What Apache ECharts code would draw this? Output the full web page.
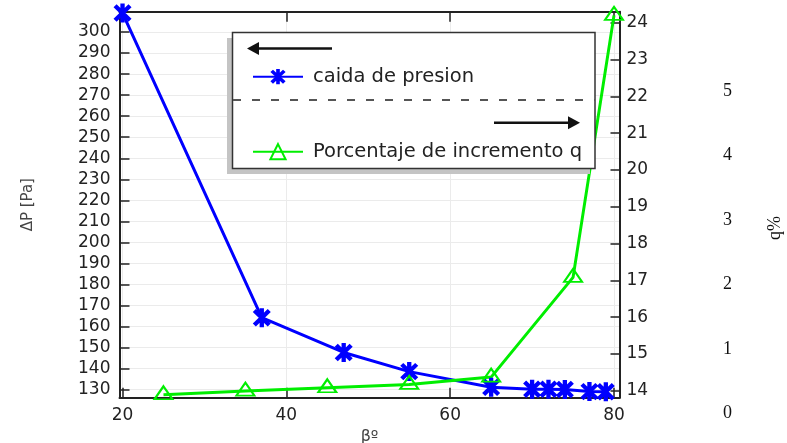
<!DOCTYPE html>
<html>
<head>
<meta charset="utf-8">
<script src="https://cdn.jsdelivr.net/npm/echarts@6/dist/echarts.min.js"></script>
<style>
html,body{margin:0;padding:0;background:#fff}
#chart{width:787px;height:443px}
</style>
</head>
<body>
<div id="chart"></div>
<script>
// caida de presion (eje izquierdo)
const betaPresion = [20, 37, 47, 55, 65, 70, 72, 74, 77, 79]
const caidaPresion = [309, 164.2, 147.7, 138.6, 131.2, 130.2, 130.2, 130.1, 129.1, 129]
// porcentaje de incremento q (eje derecho)
const betaPorcentaje = [25, 35, 45, 55, 65, 75, 80]
const incrementoQ = [13.89, 13.99, 14.08, 14.17, 14.37, 17.08, 24.2]
// etiquetas de los ejes
const xTicks = [20, 40, 60, 80]
const presionTicks = [130, 140, 150, 160, 170, 180, 190, 200, 210, 220, 230, 240, 250, 260, 270, 280, 290, 300]
const qTicks = [14, 15, 16, 17, 18, 19, 20, 21, 22, 23, 24]
const extraTicks = [0, 1, 2, 3, 4, 5]

const FONT = 'DejaVu Sans'
const FRAME = '#222'
const STAR = 'path://M39 0H61V100H39Z M19.8 4.2L95.8 80.2L80.2 95.8L4.2 19.8Z M95.8 19.8L19.8 95.8L4.2 80.2L80.2 4.2Z'

const chart = echarts.init(document.getElementById('chart'))

const frameAxis = {
    axisLine: { show: true, lineStyle: { color: FRAME, width: 2 } },
    axisTick: { show: true, inside: true, length: 10, lineStyle: { color: FRAME, width: 1.5 } }
}

const option = {
    animation: false,
    backgroundColor: '#fff',
    grid: [
        { left: 119.5, right: 167.5, top: 11.7, bottom: 45.3, outerBoundsMode: 'none' },
        { left: 740, width: 10, top: 91, height: 322.3, outerBoundsMode: 'none' }
    ],
    xAxis: [
        {
            type: 'value', min: 19.63, max: 80.67, position: 'bottom',
            name: 'βº', nameLocation: 'middle', nameGap: 27,
            nameTextStyle: { fontFamily: FONT, fontSize: 16, color: '#444' },
            axisLine: frameAxis.axisLine,
            axisTick: Object.assign({ customValues: xTicks }, frameAxis.axisTick),
            axisLabel: { customValues: xTicks, fontFamily: FONT, fontSize: 17, color: '#222', margin: 9 },
            splitLine: { show: true, lineStyle: { color: '#ebebeb', width: 1 } }
        },
        {
            type: 'value', min: 19.63, max: 80.67, position: 'top',
            axisLine: frameAxis.axisLine,
            axisTick: Object.assign({ customValues: xTicks }, frameAxis.axisTick),
            axisLabel: { show: false },
            splitLine: { show: false }
        },
        { type: 'value', gridIndex: 1, show: false }
    ],
    yAxis: [
        {
            type: 'value', min: 126.2, max: 309.65, position: 'left',
            name: 'ΔP [Pa]', nameLocation: 'middle', nameGap: 84,
            nameTextStyle: { fontFamily: FONT, fontSize: 15, color: '#444' },
            axisLine: frameAxis.axisLine,
            axisTick: Object.assign({ customValues: presionTicks }, frameAxis.axisTick),
            axisLabel: { customValues: presionTicks, fontFamily: FONT, fontSize: 17, color: '#222', margin: 9 },
            splitLine: { show: true, lineStyle: { color: '#ebebeb', width: 1 } }
        },
        {
            type: 'value', min: 13.81, max: 24.3, position: 'right',
            axisLine: frameAxis.axisLine,
            axisTick: Object.assign({ customValues: qTicks }, frameAxis.axisTick, { length: 9 }),
            axisLabel: { customValues: qTicks, fontFamily: FONT, fontSize: 17, color: '#222', margin: 7 },
            splitLine: { show: false }
        },
        {
            type: 'value', gridIndex: 1, min: 0, max: 5, interval: 1, position: 'left',
            axisLine: { show: false }, axisTick: { show: false }, splitLine: { show: false },
            axisLabel: { customValues: extraTicks, fontFamily: 'Liberation Serif', fontSize: 18, color: '#111', margin: 8 }
        }
    ],
    legend: [
        {
            data: ['caida de presion'], left: 247, top: 61.7, z: 110,
            itemWidth: 50, itemHeight: 19, selectedMode: false,
            textStyle: { fontFamily: FONT, fontSize: 19.5, color: '#222', lineHeight: 20, padding: [0, 0, 0, 5] }
        },
        {
            data: ['Porcentaje de incremento q'], left: 247, top: 136.7, z: 110,
            itemWidth: 50, itemHeight: 19, selectedMode: false,
            textStyle: { fontFamily: FONT, fontSize: 19.5, color: '#222', lineHeight: 20, padding: [0, 0, 0, 5] }
        }
    ],
    graphic: [
        // sombra y caja de la leyenda
        { type: 'rect', z: 100, shape: { x: 227, y: 38, width: 363, height: 136 }, style: { fill: '#c4c4c4' } },
        { type: 'rect', z: 101, shape: { x: 232.5, y: 32.5, width: 362.5, height: 136 }, style: { fill: '#fff', stroke: '#333', lineWidth: 1.5 } },
        { type: 'line', z: 102, shape: { x1: 233, y1: 100, x2: 595, y2: 100 }, style: { stroke: '#555', lineWidth: 2, lineDash: [8, 11] } },
        // flechas
        { type: 'line', z: 102, shape: { x1: 256, y1: 48.5, x2: 332, y2: 48.5 }, style: { stroke: '#111', lineWidth: 2.5 } },
        { type: 'polygon', z: 102, shape: { points: [[247, 48.5], [259, 42], [259, 55]] }, style: { fill: '#111' } },
        { type: 'line', z: 102, shape: { x1: 494, y1: 122.7, x2: 571, y2: 122.7 }, style: { stroke: '#111', lineWidth: 2.5 } },
        { type: 'polygon', z: 102, shape: { points: [[580, 122.7], [568, 116.2], [568, 129.2]] }, style: { fill: '#111' } },
        // titulo del eje extra
        {
            type: 'text', x: 775, y: 228, rotation: Math.PI / 2,
            style: { text: 'q%', font: '18px "Liberation Serif"', fill: '#111', align: 'center', verticalAlign: 'middle' }
        }
    ],
    series: [
        {
            name: 'caida de presion', type: 'line', xAxisIndex: 0, yAxisIndex: 0,
            data: betaPresion.map((b, i) => [b, caidaPresion[i]]),
            symbol: STAR, symbolSize: [18, 19],
            lineStyle: { color: '#0000ff', width: 3 },
            itemStyle: { color: '#0000ff' }
        },
        {
            name: 'Porcentaje de incremento q', type: 'line', xAxisIndex: 0, yAxisIndex: 1,
            data: betaPorcentaje.map((b, i) => [b, incrementoQ[i]]),
            symbol: 'triangle', symbolSize: [18, 13], symbolOffset: [0, -2],
            lineStyle: { color: '#00ee00', width: 3 },
            itemStyle: { color: 'rgba(255,255,255,0)', borderColor: '#00ee00', borderWidth: 2 }
        }
    ]
}

chart.setOption(option)
</script>
</body>
</html>
